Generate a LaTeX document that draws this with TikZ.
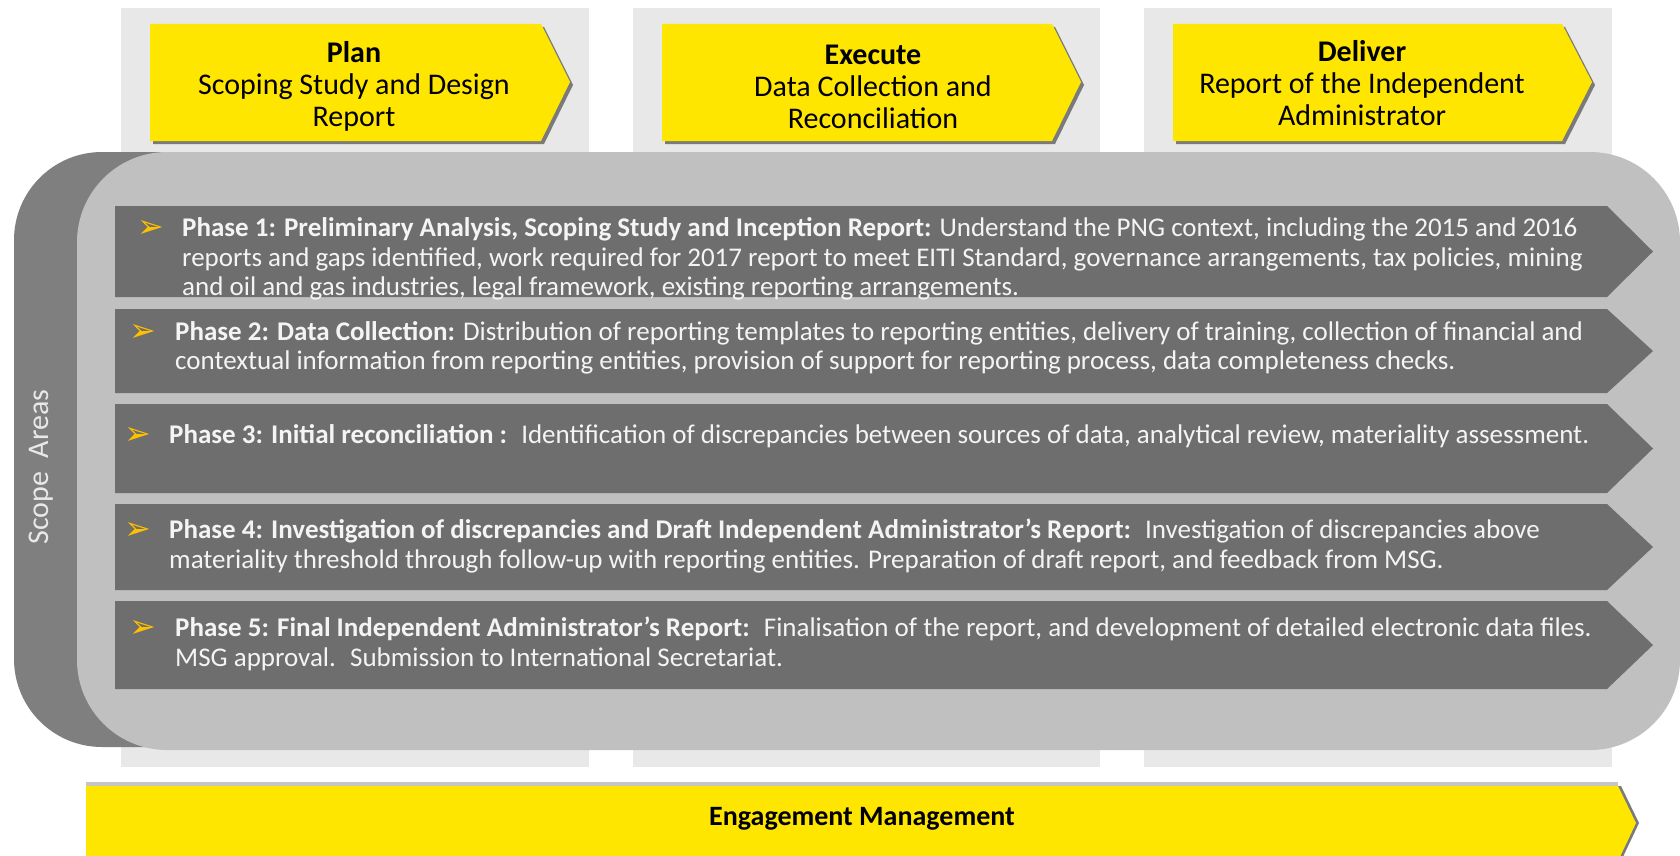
\documentclass[tikz,border=0pt]{standalone}
\usepackage{fontspec}
\setmainfont{Carlito}
\newfontfamily\symfont{DejaVu Sans}

\definecolor{colgrey}{HTML}{E8E8E8}
\definecolor{eyyellow}{HTML}{FFE600}
\definecolor{shadowgrey}{HTML}{7A7A7A}
\definecolor{backgrey}{HTML}{7F7F7F}
\definecolor{areagrey}{HTML}{C0C0C0}
\definecolor{bargrey}{HTML}{6E6E6E}
\definecolor{bartext}{HTML}{F4F4F4}
\definecolor{bulletgold}{HTML}{FFC000}

\begin{document}
\begin{tikzpicture}[x=1pt, y=-1pt,
    hdr/.style = {align=center, inner sep=0pt, font=\fontsize{30}{32}\selectfont},
    phase/.style = {align=left, anchor=west, inner sep=0pt, text=bartext, font=\fontsize{27}{29.5}\selectfont},
    bullet/.style = {inner sep=0pt, text=bulletgold, font=\symfont\fontsize{32}{32}\selectfont}]
    \useasboundingbox (0,0) rectangle (1680,856);
    \clip (0,0) rectangle (1680,856);

    % column backgrounds
    \fill[colgrey] (121,8) rectangle (589,767);
    \fill[colgrey] (633,8) rectangle (1100,767);
    \fill[colgrey] (1144,8) rectangle (1612,767);

    % header chevrons
    \fill[shadowgrey] (153,27) -- (544,27) -- (573,85) -- (544,144) -- (153,144) -- cycle;
    \fill[eyyellow] (150,24) -- (541,24) -- (570,82) -- (541,141) -- (150,141) -- cycle;
    \fill[shadowgrey] (665,27) -- (1055,27) -- (1084,85) -- (1055,144) -- (665,144) -- cycle;
    \fill[eyyellow] (662,24) -- (1052,24) -- (1081,82) -- (1052,141) -- (662,141) -- cycle;
    \fill[shadowgrey] (1176,27) -- (1565,27) -- (1595,85) -- (1565,144) -- (1176,144) -- cycle;
    \fill[eyyellow] (1173,24) -- (1562,24) -- (1592,82) -- (1562,141) -- (1173,141) -- cycle;

    \node[hdr] (plan) at (354,86) {\textbf{Plan}\\Scoping Study and Design\\Report};
    \node[hdr] (execute) at (873,87) {\textbf{Execute}\\Data Collection and\\Reconciliation};
    \node[hdr] (deliver) at (1362,83) {\textbf{Deliver}\\Report of the Independent\\Administrator};

    % scope area
    \fill[backgrey, rounded corners=88] (14,152) rectangle (700,747);
    \fill[areagrey, rounded corners=90] (77,152) rectangle (1680,750);
    \node[rotate=90, inner sep=0pt, text=colgrey, font=\fontsize{30}{30}\selectfont] (scope) at (41,467) {Scope~ Areas};

    % phase bars
    \fill[bargrey] (115,206) -- (1607,206) -- (1653,251.5) -- (1607,297) -- (115,297) -- cycle;
    \fill[bargrey] (115,309) -- (1607,309) -- (1653,351) -- (1607,393) -- (115,393) -- cycle;
    \fill[bargrey] (115,404) -- (1607,404) -- (1653,448.5) -- (1607,493) -- (115,493) -- cycle;
    \fill[bargrey] (115,504) -- (1607,504) -- (1653,547) -- (1607,590) -- (115,590) -- cycle;
    \fill[bargrey] (115,601) -- (1607,601) -- (1653,645) -- (1607,689) -- (115,689) -- cycle;

    \node[bullet] (b1) at (151,229) {➢};
    \node[bullet] (b2) at (143,333) {➢};
    \node[bullet] (b3) at (138,436) {➢};
    \node[bullet] (b4) at (138,531) {➢};
    \node[bullet] (b5) at (143,629) {➢};

    \node[phase] (p1) at (182,259) {\textbf{Phase 1: Preliminary Analysis, Scoping Study and Inception Report:} Understand the PNG context, including the 2015 and 2016\\reports and gaps identified, work required for 2017 report to meet EITI Standard, governance arrangements, tax policies, mining\\and oil and gas industries, legal framework, existing reporting arrangements.};
    \node[phase] (p2) at (175,348) {\textbf{Phase 2: Data Collection:} Distribution of reporting templates to reporting entities, delivery of training, collection of financial and\\contextual information from reporting entities, provision of support for reporting process, data completeness checks.};
    \node[phase] (p3) at (169,436) {\textbf{Phase 3: Initial reconciliation :}~ Identification of discrepancies between sources of data, analytical review, materiality assessment.};
    \node[phase] (p4) at (169,546) {\textbf{Phase 4: Investigation of discrepancies and Draft Independent Administrator’s Report:}~ Investigation of discrepancies above\\materiality threshold through follow-up with reporting entities. Preparation of draft report, and feedback from MSG.};
    \node[phase] (p5) at (175,644) {\textbf{Phase 5: Final Independent Administrator’s Report:}~ Finalisation of the report, and development of detailed electronic data files.\\MSG approval.~ Submission to International Secretariat.};

    % engagement bar
    \fill[colgrey!85!black] (86,782) rectangle (1618,786);
    \fill[shadowgrey] (89,786) -- (1621,786) -- (1639,823) -- (1621,861) -- (89,861) -- cycle;
    \fill[eyyellow] (86,786) -- (1618,786) -- (1636,823) -- (1618,861) -- (86,861) -- cycle;
    \node[inner sep=0pt, font=\bfseries\fontsize{28}{28}\selectfont] (eng) at (862,819) {Engagement Management};
\end{tikzpicture}
\end{document}
